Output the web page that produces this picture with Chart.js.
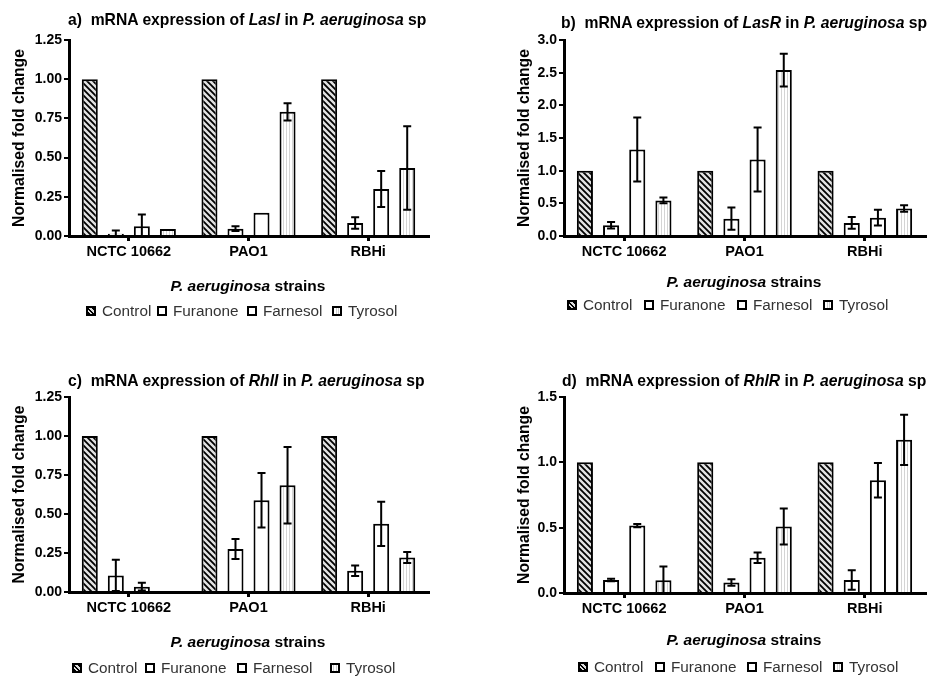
<!DOCTYPE html>
<html>
<head>
<meta charset="utf-8">
<script src="https://cdn.jsdelivr.net/npm/chart.js@4.4.0/dist/chart.umd.min.js"></script>
<style>
  body { margin: 0; background: #fff; }
  #page { position: relative; width: 930px; height: 676px; overflow: hidden;
          font-family: "Liberation Sans", Arial, sans-serif; color: #000; background: #fff; }
  #page canvas { position: absolute; }
  .title { position: absolute; font-weight: bold; font-size: 15.7px; line-height: 18px; white-space: nowrap; }
  .xtitle { position: absolute; width: 300px; text-align: center; font-weight: bold; font-size: 15.5px; line-height: 18px; white-space: nowrap; }
  .leg { position: absolute; display: flex; align-items: center; font-size: 15.3px; line-height: 18px; color: #333; white-space: nowrap; }
  .sw { width: 10px; height: 10px; box-sizing: border-box; border: 2px solid #000; margin-right: 6px; background: #fff; }
  .sw.hatch { background: repeating-linear-gradient(45deg, #000 0 1.6px, #ddd 1.6px 3.2px); }
  .sw.vert { background: repeating-linear-gradient(90deg, #fff 0 1.5px, #ccc 1.5px 2.5px); }
</style>
</head>
<body>
<div id="page"></div>
<script>
var strains = ["NCTC 10662", "PAO1", "RBHi"];
var treatments = ["Control", "Furanone", "Farnesol", "Tyrosol"];

// rows follow treatments, columns follow strains
var lasIMeans = [[1, 1, 1], [0.015, 0.047, 0.083], [0.062, 0.149, 0.30], [0.045, 0.792, 0.434]];
var lasIErrors = [[0, 0, 0], [0.02, 0.015, 0.036], [0.075, 0, 0.115], [0, 0.055, 0.266]];

var lasRMeans = [[1, 1, 1], [0.163, 0.265, 0.20], [1.325, 1.17, 0.28], [0.545, 2.54, 0.42]];
var lasRErrors = [[0, 0, 0], [0.05, 0.17, 0.09], [0.49, 0.49, 0.12], [0.045, 0.25, 0.05]];

var rhlIMeans = [[1, 1, 1], [0.106, 0.275, 0.136], [0.034, 0.588, 0.437], [0, 0.684, 0.221]];
var rhlIErrors = [[0, 0, 0], [0.10, 0.064, 0.034], [0.025, 0.175, 0.142], [0, 0.245, 0.035]];

var rhlRMeans = [[1, 1, 1], [0.10, 0.081, 0.10], [0.516, 0.27, 0.862], [0.097, 0.509, 1.172]];
var rhlRErrors = [[0, 0, 0], [0.01, 0.025, 0.075], [0.013, 0.04, 0.132], [0.105, 0.137, 0.193]];

var yTicksA = [0, 1.25, 0.25];
var yTicksB = [0, 3.0, 0.5];
var yTicksD = [0, 1.5, 0.5];

var panels = [
  { gene: "LasI", tag: "a)", means: lasIMeans, errs: lasIErrors, yt: yTicksA, dec: 2,
    x: 0, y: 0, area: { left: 69, right: 428, top: 40, bottom: 236, pad: 0 },
    title: [68, 11], xt: [248, 277], leg: [[86, 157, 247, 332], 302] },
  { gene: "LasR", tag: "b)", means: lasRMeans, errs: lasRErrors, yt: yTicksB, dec: 1,
    x: 465, y: 0, area: { left: 99, right: 460, top: 40, bottom: 236, pad: 40 },
    title: [561, 14], xt: [744, 273], leg: [[567, 644, 737, 823], 296] },
  { gene: "RhlI", tag: "c)", means: rhlIMeans, errs: rhlIErrors, yt: yTicksA, dec: 2,
    x: 0, y: 338, area: { left: 69, right: 428, top: 59, bottom: 254, pad: 0 },
    title: [68, 372], xt: [248, 633], leg: [[72, 145, 237, 330], 659] },
  { gene: "RhlR", tag: "d)", means: rhlRMeans, errs: rhlRErrors, yt: yTicksD, dec: 1,
    x: 465, y: 338, area: { left: 99, right: 460, top: 59, bottom: 255, pad: 40 },
    title: [562, 372], xt: [744, 631], leg: [[578, 655, 747, 833], 658] }
];

function makePattern(kind) {
  var c = document.createElement("canvas");
  var g = c.getContext("2d");
  if (kind == "hatch") {
    var s = 6;
    c.width = s; c.height = s;
    g.fillStyle = "#e2e2e2";
    g.fillRect(0, 0, s, s);
    g.strokeStyle = "#000";
    g.lineWidth = 1.8;
    g.beginPath();
    g.moveTo(-1, -1); g.lineTo(s + 1, s + 1);
    g.moveTo(-2, s - 2); g.lineTo(2, s + 2);
    g.moveTo(s - 2, -2); g.lineTo(s + 2, 2);
    g.stroke();
  } else {
    c.width = 3; c.height = 3;
    g.fillStyle = "#fff";
    g.fillRect(0, 0, 3, 3);
    g.fillStyle = "#d4d4d4";
    g.fillRect(1, 0, 1, 3);
  }
  return g.createPattern(c, "repeat");
}

var fills = [makePattern("hatch"), "#fff", "#fff", makePattern("vert")];

var errorBars = {
  id: "errorBars",
  afterDatasetsDraw: function (chart) {
    var ctx = chart.ctx, ys = chart.scales.y;
    ctx.save();
    ctx.strokeStyle = "#000";
    ctx.lineWidth = 2;
    chart.data.datasets.forEach(function (ds, i) {
      chart.getDatasetMeta(i).data.forEach(function (bar, j) {
        var e = ds.errors[j];
        if (!e) return;
        var v = ds.data[j];
        var top = ys.getPixelForValue(v + e);
        var bot = ys.getPixelForValue(Math.max(v - e, 0));
        ctx.beginPath();
        ctx.moveTo(bar.x, top); ctx.lineTo(bar.x, bot);
        ctx.moveTo(bar.x - 4, top); ctx.lineTo(bar.x + 4, top);
        if (v - e > 0) { ctx.moveTo(bar.x - 4, bot); ctx.lineTo(bar.x + 4, bot); }
        ctx.stroke();
      });
    });
    ctx.restore();
  }
};

var page = document.getElementById("page");
var fontFam = "'Liberation Sans', Arial, sans-serif";

function RenderPanel(p) {
  var cv = document.createElement("canvas");
  cv.width = 465; cv.height = 338;
  cv.style.left = p.x + "px"; cv.style.top = p.y + "px";
  page.appendChild(cv);

  var a = p.area;
  new Chart(cv, {
    type: "bar",
    data: {
      labels: strains,
      datasets: treatments.map(function (t, i) {
        return {
          label: t, data: p.means[i], errors: p.errs[i],
          backgroundColor: fills[i], borderColor: "#000", borderWidth: 2,
          categoryPercentage: 0.87, barPercentage: 0.615
        };
      })
    },
    options: {
      responsive: false, animation: false, devicePixelRatio: 1,
      layout: { padding: { left: a.pad, top: a.top, right: 465 - a.right, bottom: 338 - a.bottom - 30 } },
      plugins: { legend: { display: false }, tooltip: { enabled: false } },
      scales: {
        x: {
          grid: { drawOnChartArea: false, offset: false, tickLength: 5, color: "#000", lineWidth: 3 },
          border: { color: "#000", width: 3 },
          ticks: { color: "#000", padding: 2, font: { family: fontFam, weight: "bold", size: 14.5 } },
          afterFit: function (s) { s.height = 30; }
        },
        y: {
          min: p.yt[0], max: p.yt[1],
          grid: { drawOnChartArea: false, tickLength: 5, color: "#000", lineWidth: 2 },
          border: { color: "#000", width: 3 },
          ticks: { stepSize: p.yt[2], color: "#000", padding: 2,
                   font: { family: fontFam, weight: "bold", size: 14 },
                   callback: function (v) { return Number(v).toFixed(p.dec); } },
          title: { display: true, text: "Normalised fold change", color: "#000",
                   padding: { top: 10, bottom: 0 },
                   font: { family: fontFam, weight: "bold", size: 15.7 } },
          afterFit: function (s) { s.width = a.left - a.pad; }
        }
      }
    },
    plugins: [errorBars]
  });

  var t = document.createElement("div");
  t.className = "title";
  t.style.left = p.title[0] + "px"; t.style.top = p.title[1] + "px";
  t.innerHTML = p.tag + "&nbsp; mRNA expression of <i>" + p.gene + "</i> in <i>P. aeruginosa</i> sp";
  page.appendChild(t);

  var xt = document.createElement("div");
  xt.className = "xtitle";
  xt.style.left = (p.xt[0] - 150) + "px"; xt.style.top = p.xt[1] + "px";
  xt.innerHTML = "<i>P. aeruginosa</i> strains";
  page.appendChild(xt);

  var kinds = ["hatch", "", "", "vert"];
  treatments.forEach(function (name, i) {
    var it = document.createElement("div");
    it.className = "leg";
    it.style.left = p.leg[0][i] + "px"; it.style.top = p.leg[1] + "px";
    it.innerHTML = '<span class="sw ' + kinds[i] + '"></span>' + name;
    page.appendChild(it);
  });
}

panels.forEach(RenderPanel);
</script>
</body>
</html>
